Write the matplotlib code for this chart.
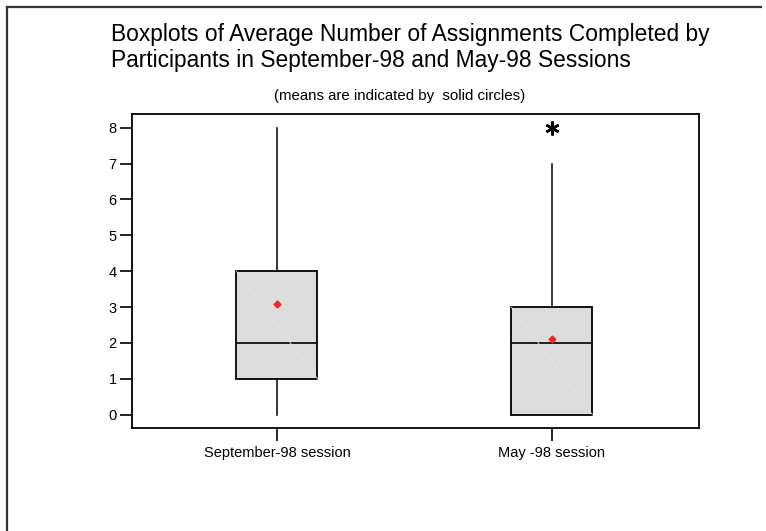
import numpy as np
import matplotlib.pyplot as plt
from matplotlib.lines import Line2D

plt.rcParams['font.family'] = ['Liberation Sans', 'DejaVu Sans']

# data
sessions = ['September-98 session', 'May -98 session']
whis_lo = [0, 0]
q1 = [1, 0]
med = [2, 2]
q3 = [4, 3]
whis_hi = [8, 7]
means = [3.08, 2.12]
outliers = [[], [8]]

stats = []
for i in range(len(sessions)):
    stats.append(dict(whislo=whis_lo[i], q1=q1[i], med=med[i], q3=q3[i],
                      whishi=whis_hi[i], mean=means[i], fliers=outliers[i],
                      label=sessions[i]))

fig = plt.figure(figsize=(7.66, 5.31), dpi=100)
ax = fig.add_axes([132/766, 1-428/531, 567/766, 314/531])

pos = [1, 2]
w = 0.295
ax.bxp(stats, positions=pos, widths=w, patch_artist=True, showcaps=False,
       showmeans=True, zorder=2,
       boxprops=dict(facecolor='#dcdcdc', edgecolor='black', linewidth=1.3),
       medianprops=dict(color='black', linewidth=1.2),
       whiskerprops=dict(color='black', linewidth=1.1),
       meanprops=dict(marker='D', markerfacecolor='#ff2020', markeredgecolor='#ff2020', markersize=3.5),
       flierprops=dict(marker=(6, 2, 0), markeredgecolor='black', markersize=10, markeredgewidth=1.8))

# faint diagonal inside each box
for i, p in enumerate(pos):
    ax.plot([p - w/2, p + w/2], [q3[i], q1[i]], color='#e4e4e4', lw=0.6, zorder=2.5)

ax.set_xlim(0.473, 2.535)
ax.set_ylim(-0.37, 8.38)
ax.set_yticks(range(0, 9))
ax.set_xticks(pos)
ax.set_xticklabels(sessions)
ax.tick_params(axis='both', direction='out', length=9, width=1.2, colors='black')
ax.tick_params(axis='y', labelsize=10.5, pad=2)
ax.tick_params(axis='x', labelsize=10.5, pad=4)
for s in ax.spines.values():
    s.set_linewidth(1.3)

fig.text(111/766, 1-40.7/531, 'Boxplots of Average Number of Assignments Completed by',
         fontsize=16.4, va='baseline', ha='left')
fig.text(111/766, 1-67.3/531, 'Participants in September-98 and May-98 Sessions',
         fontsize=16.4, va='baseline', ha='left')
fig.text(400/766, 1-100/531, '(means are indicated by  solid circles)',
         fontsize=10.8, va='baseline', ha='center')

# outer frame (top and left edges)
fig.add_artist(Line2D([7/766, 7/766], [0, 1-7/531], color='#333333', lw=1.6))
fig.add_artist(Line2D([7/766, 761/766], [1-7/531, 1-7/531], color='#333333', lw=1.6))

fig.savefig('out.png', dpi=100)
